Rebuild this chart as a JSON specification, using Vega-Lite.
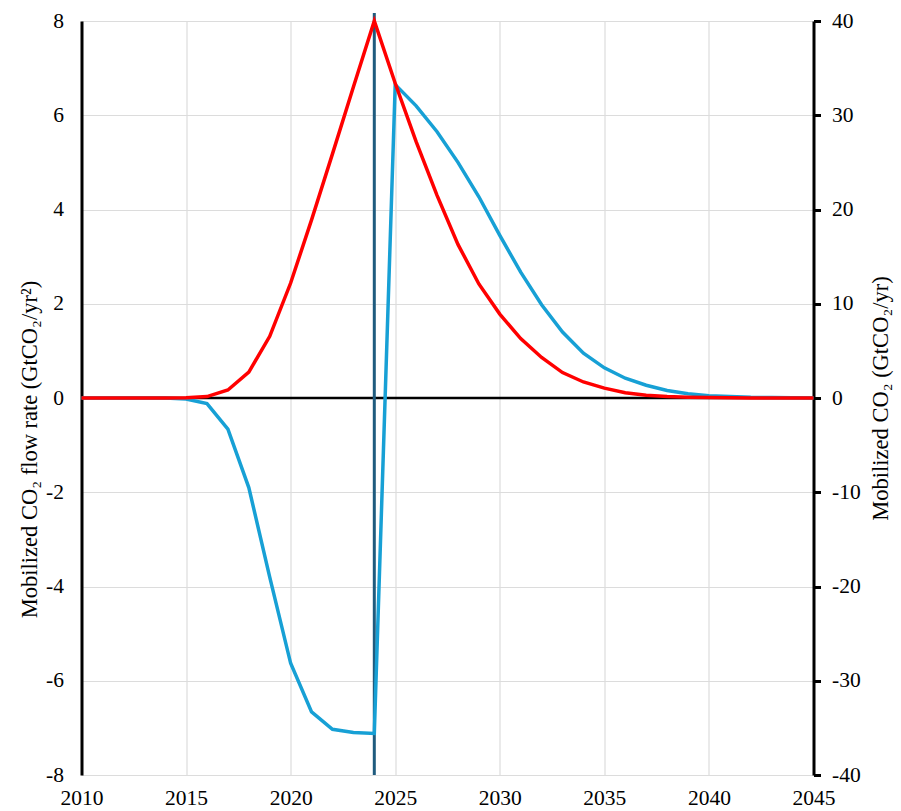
{
  "$schema": "https://vega.github.io/schema/vega-lite/v6.json",
  "width": 732,
  "height": 754,
  "autosize": {"type": "none"},
  "padding": {"left": 81.5, "top": 21, "right": 87.5, "bottom": 36},
  "background": "white",
  "config": {
    "view": {"stroke": null},
    "font": "Liberation Serif",
    "style": {
      "guide-label": {"font": "Liberation Serif", "fontSize": 21.5, "fill": "black"},
      "guide-title": {"font": "Liberation Serif", "fontSize": 22.5, "fill": "black", "fontWeight": "normal"}
    },
    "axis": {
      "labelFont": "Liberation Serif",
      "titleFont": "Liberation Serif",
      "labelFontSize": 21.5,
      "titleFontSize": 22.5,
      "titleFontWeight": "normal",
      "labelColor": "black",
      "titleColor": "black",
      "gridColor": "#dcdcdc",
      "gridWidth": 1.2
    }
  },
  "datasets": {
    "series": [
      {"year": 2010, "flow": 0, "mob": 0},
      {"year": 2011, "flow": 0, "mob": 0},
      {"year": 2012, "flow": 0, "mob": 0},
      {"year": 2013, "flow": 0, "mob": 0},
      {"year": 2014, "flow": 0, "mob": 0},
      {"year": 2015, "flow": -0.02, "mob": 0.02},
      {"year": 2016, "flow": -0.12, "mob": 0.15},
      {"year": 2017, "flow": -0.66, "mob": 0.85},
      {"year": 2018, "flow": -1.9, "mob": 2.75},
      {"year": 2019, "flow": -3.8, "mob": 6.55},
      {"year": 2020, "flow": -5.63, "mob": 12.2},
      {"year": 2021, "flow": -6.66, "mob": 18.9},
      {"year": 2022, "flow": -7.03, "mob": 25.9},
      {"year": 2023, "flow": -7.1, "mob": 33.0},
      {"year": 2024, "flow": -7.12, "mob": 40.0},
      {"year": 2025, "flow": 6.65, "mob": 33.4},
      {"year": 2026, "flow": 6.2, "mob": 27.2},
      {"year": 2027, "flow": 5.65, "mob": 21.5},
      {"year": 2028, "flow": 5.0, "mob": 16.3},
      {"year": 2029, "flow": 4.27, "mob": 12.1},
      {"year": 2030, "flow": 3.45, "mob": 8.9},
      {"year": 2031, "flow": 2.67, "mob": 6.3},
      {"year": 2032, "flow": 1.98, "mob": 4.3},
      {"year": 2033, "flow": 1.4, "mob": 2.7},
      {"year": 2034, "flow": 0.95, "mob": 1.7},
      {"year": 2035, "flow": 0.64, "mob": 1.05},
      {"year": 2036, "flow": 0.42, "mob": 0.55},
      {"year": 2037, "flow": 0.27, "mob": 0.3},
      {"year": 2038, "flow": 0.16, "mob": 0.15},
      {"year": 2039, "flow": 0.09, "mob": 0.08},
      {"year": 2040, "flow": 0.05, "mob": 0.04},
      {"year": 2041, "flow": 0.03, "mob": 0.02},
      {"year": 2042, "flow": 0.015, "mob": 0.01},
      {"year": 2043, "flow": 0.01, "mob": 0},
      {"year": 2044, "flow": 0.005, "mob": 0},
      {"year": 2045, "flow": 0, "mob": 0}
    ],
    "one": [{}]
  },
  "resolve": {"scale": {"y": "independent"}},
  "layer": [
    {
      "layer": [
        {
          "data": {"name": "one"},
          "mark": {"type": "rule", "color": "black", "strokeWidth": 2.5},
          "encoding": {
            "x": {"datum": 2010, "type": "quantitative", "scale": {"domain": [2010, 2045], "nice": false, "zero": false}, "axis": {"title": null, "format": "d", "grid": true, "tickCount": 7, "domain": false, "ticks": false, "labelPadding": 12, "labelFlush": false, "labelOverlap": false, "labelFont": "Liberation Serif", "labelFontSize": 21.5, "labelColor": "black"}},
            "x2": {"datum": 2045},
            "y": {"datum": 0, "type": "quantitative", "scale": {"domain": [-8, 8], "nice": false, "zero": false}, "axis": {"title": "Mobilized CO₂ flow rate (GtCO₂/yr²)", "orient": "left", "grid": true, "tickCount": 8, "domainColor": "black", "domainWidth": 3, "ticks": false, "labelPadding": 18, "labelFont": "Liberation Serif", "labelFontSize": 21.5, "labelColor": "black", "labelExpr": "'' + datum.value", "titleFont": "Liberation Serif", "titleFontSize": 22.5, "titleFontWeight": "normal", "titleX": -45, "titleY": 428, "titleBaseline": "alphabetic", "titleAngle": -90}}
          }
        },
        {
          "data": {"name": "one"},
          "mark": {"type": "rule", "color": "#1f5b7e", "strokeWidth": 3},
          "encoding": {
            "x": {"datum": 2024, "type": "quantitative", "scale": {"domain": [2010, 2045], "nice": false, "zero": false}, "axis": {"title": null, "format": "d", "grid": true, "tickCount": 7, "domain": false, "ticks": false, "labelPadding": 12, "labelFlush": false, "labelOverlap": false, "labelFont": "Liberation Serif", "labelFontSize": 21.5, "labelColor": "black"}},
            "y": {"datum": -8, "type": "quantitative", "scale": {"domain": [-8, 8], "nice": false, "zero": false}, "axis": {"title": "Mobilized CO₂ flow rate (GtCO₂/yr²)", "orient": "left", "grid": true, "tickCount": 8, "domainColor": "black", "domainWidth": 3, "ticks": false, "labelPadding": 18, "labelFont": "Liberation Serif", "labelFontSize": 21.5, "labelColor": "black", "labelExpr": "'' + datum.value", "titleFont": "Liberation Serif", "titleFontSize": 22.5, "titleFontWeight": "normal", "titleX": -45, "titleY": 428, "titleBaseline": "alphabetic", "titleAngle": -90}},
            "y2": {"datum": 8.17}
          }
        },
        {
          "data": {"name": "series"},
          "mark": {"type": "line", "color": "#17a0d5", "strokeWidth": 3.5},
          "encoding": {
            "x": {"field": "year", "type": "quantitative", "scale": {"domain": [2010, 2045], "nice": false, "zero": false}, "axis": {"title": null, "format": "d", "grid": true, "tickCount": 7, "domain": false, "ticks": false, "labelPadding": 12, "labelFlush": false, "labelOverlap": false, "labelFont": "Liberation Serif", "labelFontSize": 21.5, "labelColor": "black"}},
            "y": {"field": "flow", "type": "quantitative", "scale": {"domain": [-8, 8], "nice": false, "zero": false}, "axis": {"title": "Mobilized CO₂ flow rate (GtCO₂/yr²)", "orient": "left", "grid": true, "tickCount": 8, "domainColor": "black", "domainWidth": 3, "ticks": false, "labelPadding": 18, "labelFont": "Liberation Serif", "labelFontSize": 21.5, "labelColor": "black", "labelExpr": "'' + datum.value", "titleFont": "Liberation Serif", "titleFontSize": 22.5, "titleFontWeight": "normal", "titleX": -45, "titleY": 428, "titleBaseline": "alphabetic", "titleAngle": -90}}
          }
        }
      ]
    },
    {
      "data": {"name": "series"},
      "mark": {"type": "line", "color": "#ff0000", "strokeWidth": 3.5},
      "encoding": {
        "x": {"field": "year", "type": "quantitative", "scale": {"domain": [2010, 2045], "nice": false, "zero": false}, "axis": {"title": null, "format": "d", "grid": true, "tickCount": 7, "domain": false, "ticks": false, "labelPadding": 12, "labelFlush": false, "labelOverlap": false, "labelFont": "Liberation Serif", "labelFontSize": 21.5, "labelColor": "black"}},
        "y": {"field": "mob", "type": "quantitative", "scale": {"domain": [-40, 40], "nice": false, "zero": false}, "axis": {"title": "Mobilized CO₂ (GtCO₂/yr)", "orient": "right", "grid": false, "tickCount": 8, "domainColor": "black", "domainWidth": 3, "ticks": true, "tickColor": "black", "tickWidth": 3, "tickSize": 7, "labelPadding": 11, "labelFont": "Liberation Serif", "labelFontSize": 21.5, "labelColor": "black", "labelExpr": "'' + datum.value", "titleFont": "Liberation Serif", "titleFontSize": 22.5, "titleFontWeight": "normal", "titleX": 74, "titleY": 377, "titleBaseline": "alphabetic", "titleAngle": -90}}
      }
    }
  ]
}
